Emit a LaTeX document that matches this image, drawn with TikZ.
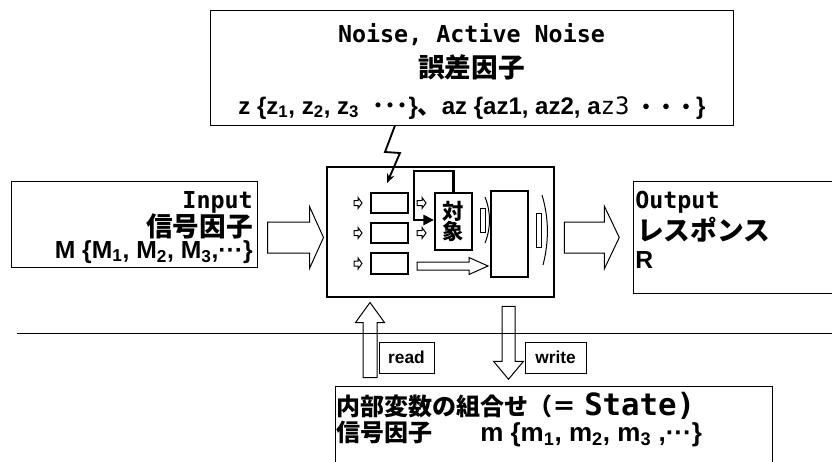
\documentclass[tikz,border=0pt]{standalone}
\usepackage{fontspec}
\setmainfont{Liberation Sans}
\newfontfamily\jp{Noto Sans CJK JP}
\newfontfamily\gmono{DejaVu Sans Mono}
\usetikzlibrary{
arrows.meta,
positioning,
calc
}
\newcommand\fsz[1]{\fontsize{#1}{#1}\selectfont}
\tikzset{
pics/fatarrow/.style args={#1/#2/#3/#4}{code={
\draw[fatline] (0,-#2) -- ({#1-#4},-#2) -- ({#1-#4},-#3) -- (#1,0)
-- ({#1-#4},#3) -- ({#1-#4},#2) -- (0,#2) -- cycle;
}}
}

\begin{document}
\begin{tikzpicture}[
x=0.75pt, y=-0.75pt,
panel/.style={
draw,
line width=0.75pt,
inner sep=0pt
},
cell/.style={
draw,
line width=1.5pt,
inner sep=0pt,
minimum width=27.75pt
},
txt/.style={inner sep=0pt, anchor=base},
tag/.style={
draw,
line width=0.75pt,
inner sep=0pt,
minimum height=23.25pt,
font=\bfseries\fsz{13pt}
},
fatline/.style={draw, line width=0.75pt, line join=miter}
]

\clip (0,0) rectangle (832,461);

% boxes
\node[panel, minimum width=392.25pt, minimum height=86.25pt] (noise) at (471.5,67.5) {};
\node[panel, minimum width=184.5pt, minimum height=64.5pt] (inp) at (134,224) {};
\node[panel, line width=1.9pt, minimum width=170.25pt, minimum height=97.5pt] (core) at (440.5,232) {};
\node[panel, minimum width=185.25pt, minimum height=84pt] (out) at (756.5,237) {};
\node[panel, minimum width=327.75pt, minimum height=70.5pt] (state) at (553.5,433) {};

% texts
\node[txt] (n1) at (471.5,42) {\gmono\bfseries\fsz{17.5pt}Noise, Active Noise};
\node[txt] (n2) at (471.5,77) {\jp\bfseries\fsz{20pt}誤差因子};
\node[txt] (n3) at (472,114) {\fsz{18pt}\bfseries z \{z\textsubscript{1}, z\textsubscript{2}, z\textsubscript{3}\ \ {\jp ･･･}\}{\jp 、}az \{az1, az2, a{\gmono\mdseries z3}\ {\jp\fsz{15pt}・・・}\}};

\node[txt, anchor=base east] (i1) at (253,208) {\gmono\bfseries\fsz{17.5pt}Input};
\node[txt, anchor=base east] (i2) at (253,236) {\jp\bfseries\fsz{20pt}信号因子};
\node[txt, anchor=base east] (i3) at (253,258) {\bfseries\fsz{18.5pt}M \{M\textsubscript{1}, M\textsubscript{2}, M\textsubscript{3},···\}};

\node[txt, anchor=base west] (o1) at (635,208) {\gmono\bfseries\fsz{17.5pt}Output};
\node[txt, anchor=base west] (o2) at (637,240) {\jp\bfseries\fsz{20pt}レスポンス};
\node[txt, anchor=base west] (o3) at (635,268) {\bfseries\fsz{18.5pt}R};

\node[txt, anchor=base west] (s1) at (336,415) {\jp\bfseries\fsz{18pt}内部変数の組合せ（＝\hspace{6pt}{\gmono\fsz{23pt}State)}};
\node[txt, anchor=base west] (s2) at (336,441) {\jp\bfseries\fsz{18pt}信号因子　　{\rmfamily\fsz{19.5pt}m \{m\textsubscript{1}, m\textsubscript{2}, m\textsubscript{3} ,···\}}};

% inside the core
\node[cell, minimum height=15pt] (b1) at (389.5,203) {};
\node[cell, minimum height=15pt] (b2) at (389.5,233) {};
\node[cell, minimum height=15.75pt] (b3) at (389.5,263.5) {};
\node[cell, minimum height=42.75pt, font=\jp\bfseries\fsz{16pt}, align=center] (obj) at (453.5,221.5)
{\fsz{16pt}対\\[-1pt]象};
\node[cell, minimum height=64.5pt] (sink) at (509.5,234) {};

\foreach \r in {b1,b2,b3}
\pic at ($(\r.west)+(-16,0)$) {fatarrow=8/2.5/5.5/4};
\foreach \r in {b1,b2}
\pic at ($(\r.east)+(8,0)$) {fatarrow=9/2.5/5.5/4};
\pic at ($(b3.east)+(8,2.5)$) {fatarrow=71/4/8.5/19};

\draw[line width=0.75pt] (480,208) rectangle (485,232);
\draw[line width=0.75pt] (485,197) .. controls (491,212) and (491,228) .. (485,243);
\draw[line width=0.75pt] (536,213) rectangle (541,247);
\draw[line width=0.75pt] (542,195) .. controls (549,218) and (549,242) .. (543,265);

\coordinate (fb) at (414,220);
\draw[line width=2.2pt, -{Triangle[length=8pt,width=7.5pt]}]
(obj.north) -- ++(0,-21) -| (fb) -- (fb -| obj.west);

% noise strikes
\coordinate (zs) at (395,0);
\coordinate (zap) at (387,183);
\draw[line width=1.4pt, -{Stealth[length=7pt,width=6pt]}]
(noise.south -| zs) -- (385,152) -- (400,153) -- (zap);

% block arrows
\pic at ($(inp.east)+(10,13.5)$) {fatarrow=56/15.5/31/14};
\pic at ($(core.east)+(9,5.5)$) {fatarrow=55/15.5/31.5/15};
\pic[rotate=90] at ($(state.north)+(-183.5,-8)$) {fatarrow=75/7/14.5/20};
\pic[rotate=-90] at ($(core.south)+(68,8)$) {fatarrow=73/6.5/15/18};

\draw[line width=0.75pt] (17,333) -- (832,333);

\node[tag, minimum width=41.25pt] (rd) at (406.5,357.5) {read};
\node[tag, minimum width=45.75pt] (wr) at (555.5,357.5) {write};

\end{tikzpicture}
\end{document}
